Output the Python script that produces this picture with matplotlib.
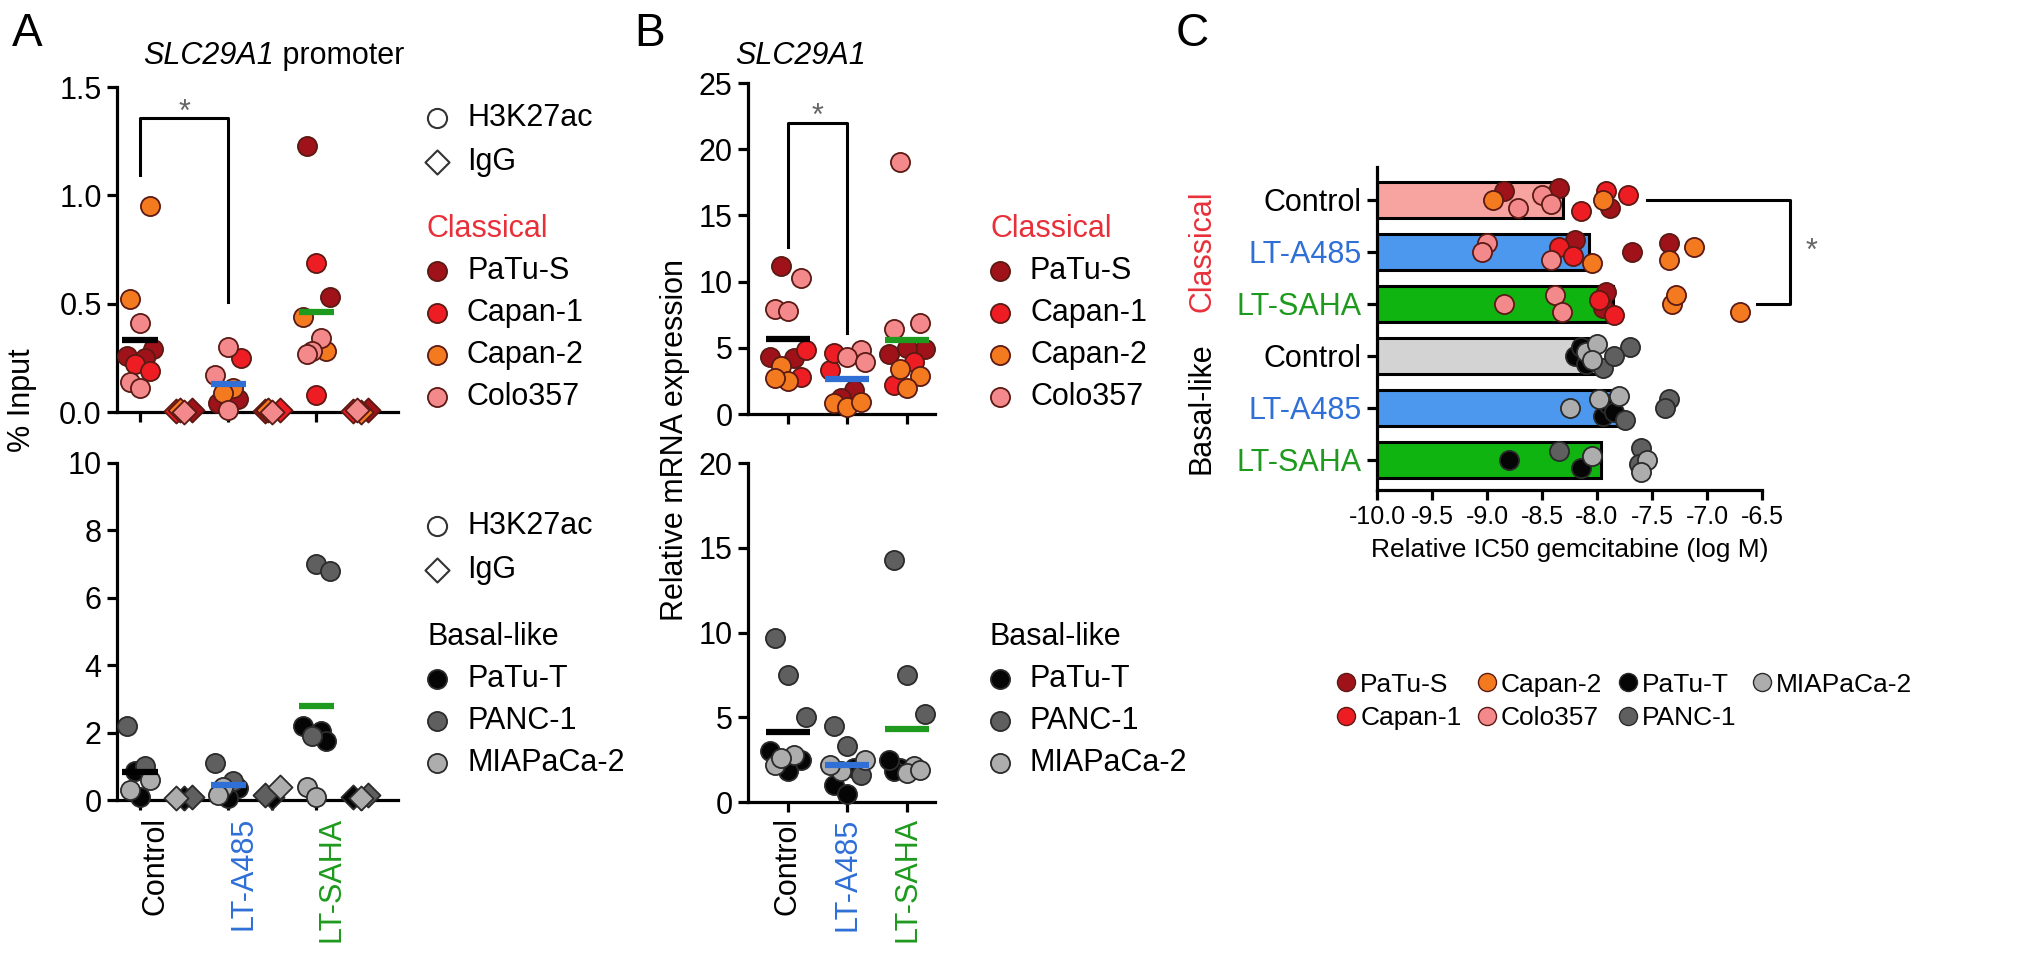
"""SLC29A1: ChIP (% input), mRNA, gemcitabine IC50 の3パネル図."""
import matplotlib
matplotlib.use("Agg")
import matplotlib.pyplot as plt
from matplotlib.lines import Line2D
from matplotlib.ticker import FuncFormatter
import numpy as np

plt.rcParams["font.family"] = ["Liberation Sans", "DejaVu Sans"]
plt.rcParams["font.size"] = 22

W, H = 2032, 956  # 出力ピクセル

TREATMENTS = ["Control", "LT-A485", "LT-SAHA"]
CLASSICAL = ["PaTu-S", "Capan-1", "Capan-2", "Colo357"]
BASAL = ["PaTu-T", "PANC-1", "MIAPaCa-2"]

# --- A: % input (H3K27ac), 各細胞株ごと ---
chip_cls_ctrl = [[0.29, 0.26, 0.25], [0.22, 0.19], [0.95, 0.52], [0.41, 0.14, 0.11]]
chip_cls_a485 = [[0.06, 0.04], [0.25], [0.11, 0.09], [0.30, 0.17, 0.01]]
chip_cls_saha = [[1.23, 0.53], [0.69, 0.08], [0.44, 0.28], [0.34, 0.28, 0.27]]
chip_bas_ctrl = [[0.85, 0.1], [2.2, 1.0], [0.6, 0.3]]
chip_bas_a485 = [[0.35, 0.05], [1.1, 0.55], [0.4, 0.15]]
chip_bas_saha = [[2.2, 2.05, 1.75], [7.0, 6.8, 1.9], [0.4, 0.1]]
# IgG
igg_cls_ctrl = [[0.01], [0.005], [0.01], [0.0]]
igg_cls_a485 = [[0.005], [0.01], [0.01], [0.0]]
igg_cls_saha = [[0.01], [0.005], [0.0], [0.01]]
igg_bas_ctrl = [[0.05], [0.1], [0.05]]
igg_bas_a485 = [[0.1], [0.15], [0.4]]
igg_bas_saha = [[0.1], [0.15], [0.05]]

# --- B: relative mRNA expression ---
mrna_cls_ctrl = [[11.2, 4.3, 4.2], [4.8, 2.8], [3.6, 2.5, 2.7], [10.3, 7.9, 7.8]]
mrna_cls_a485 = [[1.8, 1.2], [3.3, 4.6], [0.8, 0.5, 0.9], [4.8, 4.3, 3.9]]
mrna_cls_saha = [[4.9, 4.5, 5.0], [3.9, 2.2], [3.4, 2.9, 2.0], [19.0, 6.9, 6.4]]
mrna_bas_ctrl = [[3.0, 2.5, 1.8], [9.7, 7.5, 5.0], [2.8, 2.2, 2.6]]
mrna_bas_a485 = [[1.0, 0.5, 2.0], [4.5, 3.3, 1.6], [2.5, 1.8, 2.2]]
mrna_bas_saha = [[2.0, 1.8, 2.5], [14.3, 7.5, 5.2], [2.1, 1.7, 1.9]]

# --- C: relative IC50 gemcitabine (log M) ---
ic50_cls_ctrl = [[-8.85, -8.35, -7.88], [-8.15, -7.92, -7.72], [-8.95, -7.95], [-8.72, -8.5, -8.42]]
ic50_cls_a485 = [[-8.2, -7.68, -7.35], [-8.35, -8.22], [-8.05, -7.35, -7.12], [-9.0, -9.05, -8.42]]
ic50_cls_saha = [[-7.95, -7.92], [-7.98, -7.85], [-7.32, -7.28, -6.7], [-8.85, -8.38, -8.32]]
ic50_bas_ctrl = [[-8.2, -8.15, -8.1], [-7.95, -7.7, -7.85], [-8.1, -8.0, -8.05]]
ic50_bas_a485 = [[-7.95, -7.9, -7.85], [-7.35, -7.38, -7.75], [-8.25, -7.98, -7.8]]
ic50_bas_saha = [[-8.8, -8.15], [-8.35, -7.6, -7.62], [-8.05, -7.55, -7.6]]

# 色
CLS_COL = ["#A0121A", "#EE1D23", "#F47A20", "#F4898C"]
BAS_COL = ["#050505", "#5F5F5F", "#ADADAD"]
CLS_EDGE = "#5B1A14"
BAS_EDGE = "#2B2B2B"
TREAT_COL = ["#000000", "#2F6FD6", "#1E9A1E"]
BAR_COL = ["#F7A4A0", "#4C98EE", "#10B410", "#D3D3D3", "#4C98EE", "#10B410"]
RED_TXT = "#E8303A"
STAR_COL = "#666666"

OFFS = [0.0, -0.22, 0.22, -0.11, 0.11, -0.3, 0.3]
LW = 2.3


def px_axes(fig, left, top, right, bottom):
    return fig.add_axes([left / W, 1 - bottom / H, (right - left) / W, (bottom - top) / H])


def style(ax):
    for s in ("top", "right"):
        ax.spines[s].set_visible(False)
    for s in ("left", "bottom"):
        ax.spines[s].set_linewidth(LW)
    ax.tick_params(width=LW, length=7, labelsize=22, pad=4)
    ax.tick_params(which="minor", width=LW, length=7)


def strip(ax, pos, groups, colors, edge, marker="o", spread=1.0, s=190, horizontal=False):
    pts = [(v, c) for vals, c in zip(groups, colors) for v in vals]
    order = sorted(range(len(pts)), key=lambda i: pts[i][0])
    offs = {}
    for k, i in enumerate(order):
        offs[i] = OFFS[k % len(OFFS)] * spread
    for i, (v, c) in enumerate(pts):
        x, y = (v, pos + offs[i]) if horizontal else (pos + offs[i], v)
        ax.scatter(x, y, s=s, marker=marker, color=c, edgecolors=edge,
                   linewidths=1.3, zorder=3, clip_on=False)
    return np.mean([p[0] for p in pts])


def mean_line(ax, pos, m, color, hw):
    ax.plot([pos - hw, pos + hw], [m, m], color=color, lw=4.5,
            solid_capstyle="butt", zorder=5, clip_on=False)


def legend_block(ov, x, y0, header, hcolor, names, colors, edge, dy=42):
    ov.text(x - 10, y0, header, color=hcolor, va="center", ha="left", fontsize=22)
    for i, (n, c) in enumerate(zip(names, colors)):
        y = y0 + dy * (i + 1)
        ov.scatter(x, y, s=190, color=c, edgecolors=edge, linewidths=1.3, clip_on=False)
        ov.text(x + 30, y, n, va="center", ha="left", fontsize=22)


def marker_key(ov, x, y0):
    ov.scatter(x, y0, s=190, marker="o", facecolor="white", edgecolors="#333", linewidths=1.5, clip_on=False)
    ov.text(x + 30, y0, "H3K27ac", va="center", fontsize=22)
    ov.scatter(x, y0 + 44, s=150, marker="D", facecolor="white", edgecolors="#333", linewidths=1.5, clip_on=False)
    ov.text(x + 30, y0 + 44, "IgG", va="center", fontsize=22)


def gene_title(ov, x, y, suffix=""):
    t = ov.text(x, y, "SLC29A1", style="italic", va="baseline", ha="left", fontsize=22)
    if suffix:
        ov.annotate(suffix, xy=(1, 0), xycoords=t, va="bottom", ha="left", fontsize=22)


fig = plt.figure(figsize=(W / 100, H / 100), dpi=100)
ov = fig.add_axes([0, 0, 1, 1])
ov.set_xlim(0, W)
ov.set_ylim(H, 0)
ov.axis("off")

# パネル記号
for lab, x in (("A", 12), ("B", 634), ("C", 1176)):
    ov.text(x, 12, lab, fontsize=33, va="top", ha="left")

# ================= A =================
ax_at = px_axes(fig, 117, 87, 398, 412)
ax_ab = px_axes(fig, 117, 463, 398, 800)
chip_cls = [chip_cls_ctrl, chip_cls_a485, chip_cls_saha]
igg_cls = [igg_cls_ctrl, igg_cls_a485, igg_cls_saha]
chip_bas = [chip_bas_ctrl, chip_bas_a485, chip_bas_saha]
igg_bas = [igg_bas_ctrl, igg_bas_a485, igg_bas_saha]
for i in range(3):
    m = strip(ax_at, 2 * i, chip_cls[i], CLS_COL, CLS_EDGE)
    mean_line(ax_at, 2 * i, m, TREAT_COL[i], 0.4)
    strip(ax_at, 2 * i + 1, igg_cls[i], CLS_COL, CLS_EDGE, marker="D", s=150, spread=0.8)
    m = strip(ax_ab, 2 * i, chip_bas[i], BAS_COL, BAS_EDGE)
    mean_line(ax_ab, 2 * i, m, TREAT_COL[i], 0.4)
    strip(ax_ab, 2 * i + 1, igg_bas[i], BAS_COL, BAS_EDGE, marker="D", s=150, spread=0.8)

for ax in (ax_at, ax_ab):
    style(ax)
    ax.set_xlim(-0.52, 5.85)
    ax.set_xticks([0.35, 2.35, 4.35])
    ax.set_xticks(range(6), minor=True)
    ax.tick_params(axis="x", which="major", length=0)
ax_at.set_xticklabels([])
ax_at.set_ylim(0, 1.5)
ax_at.set_yticks([0, 0.5, 1.0, 1.5])
ax_at.set_yticklabels(["0.0", "0.5", "1.0", "1.5"])
ax_ab.set_ylim(0, 10)
ax_ab.set_yticks([0, 2, 4, 6, 8, 10])
ax_ab.set_xticklabels(TREATMENTS, rotation=90)
ax_ab.tick_params(axis="x", which="major", pad=12)
for t, c in zip(ax_ab.get_xticklabels(), TREAT_COL):
    t.set_color(c)

ax_at.plot([0, 0, 2, 2], [1.094, 1.357, 1.357, 0.508], color="k", lw=2.2, clip_on=False)
ax_at.text(1, 1.345, "*", color=STAR_COL, ha="center", va="baseline", fontsize=22)
gene_title(ov, 143, 64, " promoter")
ov.text(22, 400, "% Input", rotation=90, va="center", ha="center", fontsize=22)

marker_key(ov, 437, 118)
legend_block(ov, 437, 229, "Classical", RED_TXT, CLASSICAL, CLS_COL, CLS_EDGE)
marker_key(ov, 437, 526)
legend_block(ov, 437, 637, "Basal-like", "black", BASAL, BAS_COL, BAS_EDGE)

# ================= B =================
ax_bt = px_axes(fig, 748, 83, 935, 414)
ax_bb = px_axes(fig, 748, 463, 935, 802)
mrna_cls = [mrna_cls_ctrl, mrna_cls_a485, mrna_cls_saha]
mrna_bas = [mrna_bas_ctrl, mrna_bas_a485, mrna_bas_saha]
for i in range(3):
    m = strip(ax_bt, i, mrna_cls[i], CLS_COL, CLS_EDGE, spread=1.0)
    mean_line(ax_bt, i, m, TREAT_COL[i], 0.37)
    m = strip(ax_bb, i, mrna_bas[i], BAS_COL, BAS_EDGE, spread=1.0)
    mean_line(ax_bb, i, m, TREAT_COL[i], 0.37)
for ax in (ax_bt, ax_bb):
    style(ax)
    ax.set_xlim(-0.67, 2.47)
    ax.set_xticks(range(3))
ax_bt.set_xticklabels([])
ax_bt.set_ylim(0, 25)
ax_bt.set_yticks(range(0, 26, 5))
ax_bb.set_ylim(0, 20)
ax_bb.set_yticks(range(0, 21, 5))
ax_bb.set_xticklabels(TREATMENTS, rotation=90)
for t, c in zip(ax_bb.get_xticklabels(), TREAT_COL):
    t.set_color(c)

ax_bt.plot([0, 0, 1, 1], [12.6, 22, 22, 6.1], color="k", lw=2.2, clip_on=False)
ax_bt.text(0.5, 21.8, "*", color=STAR_COL, ha="center", va="baseline", fontsize=22)
gene_title(ov, 735, 64)
ov.text(675, 440, "Relative mRNA expression", rotation=90, va="center", ha="center", fontsize=22)

legend_block(ov, 1000, 229, "Classical", RED_TXT, CLASSICAL, CLS_COL, CLS_EDGE)
legend_block(ov, 1000, 637, "Basal-like", "black", BASAL, BAS_COL, BAS_EDGE)

# ================= C =================
ax_c = px_axes(fig, 1377, 167, 1762, 490)
ic50_rows = [ic50_cls_ctrl, ic50_cls_a485, ic50_cls_saha,
             ic50_bas_ctrl, ic50_bas_a485, ic50_bas_saha]
for r, groups in enumerate(ic50_rows):
    cols = CLS_COL if r < 3 else BAS_COL
    edge = CLS_EDGE if r < 3 else BAS_EDGE
    vals = [v for g in groups for v in g]
    m = np.mean(vals)
    ax_c.barh(r, m + 10, left=-10, height=0.7, color=BAR_COL[r],
              edgecolor="k", linewidth=2.2, zorder=2)
    strip(ax_c, r, groups, cols, edge, spread=0.75, horizontal=True)

style(ax_c)
ax_c.set_xlim(-10, -6.5)
ax_c.set_ylim(5.58, -0.63)
ax_c.set_xticks(np.arange(-10, -6.49, 0.5))
ax_c.xaxis.set_major_formatter(FuncFormatter(lambda v, _: f"{v:.1f}"))
ax_c.tick_params(axis="x", labelsize=18)
ax_c.set_yticks(range(6))
ax_c.set_yticklabels(TREATMENTS * 2)
for t, c in zip(ax_c.get_yticklabels(), TREAT_COL * 2):
    t.set_color(c)
ax_c.set_xlabel("Relative IC50 gemcitabine (log M)", fontsize=19, labelpad=6)

ax_c.plot([-7.55, -6.25, -6.25, -6.55], [0, 0, 2, 2], color="k", lw=2.2, clip_on=False)
ax_c.text(-6.05, 1.0, "*", color=STAR_COL, ha="center", va="center", fontsize=22)

ov.text(1202, 251, "Classical", rotation=90, color=RED_TXT, va="center", ha="center", fontsize=22)
ov.text(1202, 408, "Basal-like", rotation=90, color="black", va="center", ha="center", fontsize=22)

handles = [Line2D([], [], ls="", marker="o", markersize=13, color=c,
                  markeredgecolor=CLS_EDGE if n in CLASSICAL else BAS_EDGE)
           for n, c in zip(CLASSICAL + BASAL, CLS_COL + BAS_COL)]
ax_c.legend(handles, CLASSICAL + BASAL, ncol=4, loc="upper left",
            bbox_to_anchor=(1322 / W, 1 - 662 / H), bbox_transform=fig.transFigure,
            frameon=False, fontsize=19, handletextpad=0.05, columnspacing=0.45,
            labelspacing=0.35, handlelength=1.0, borderaxespad=0)

fig.savefig("out.png", dpi=100)
